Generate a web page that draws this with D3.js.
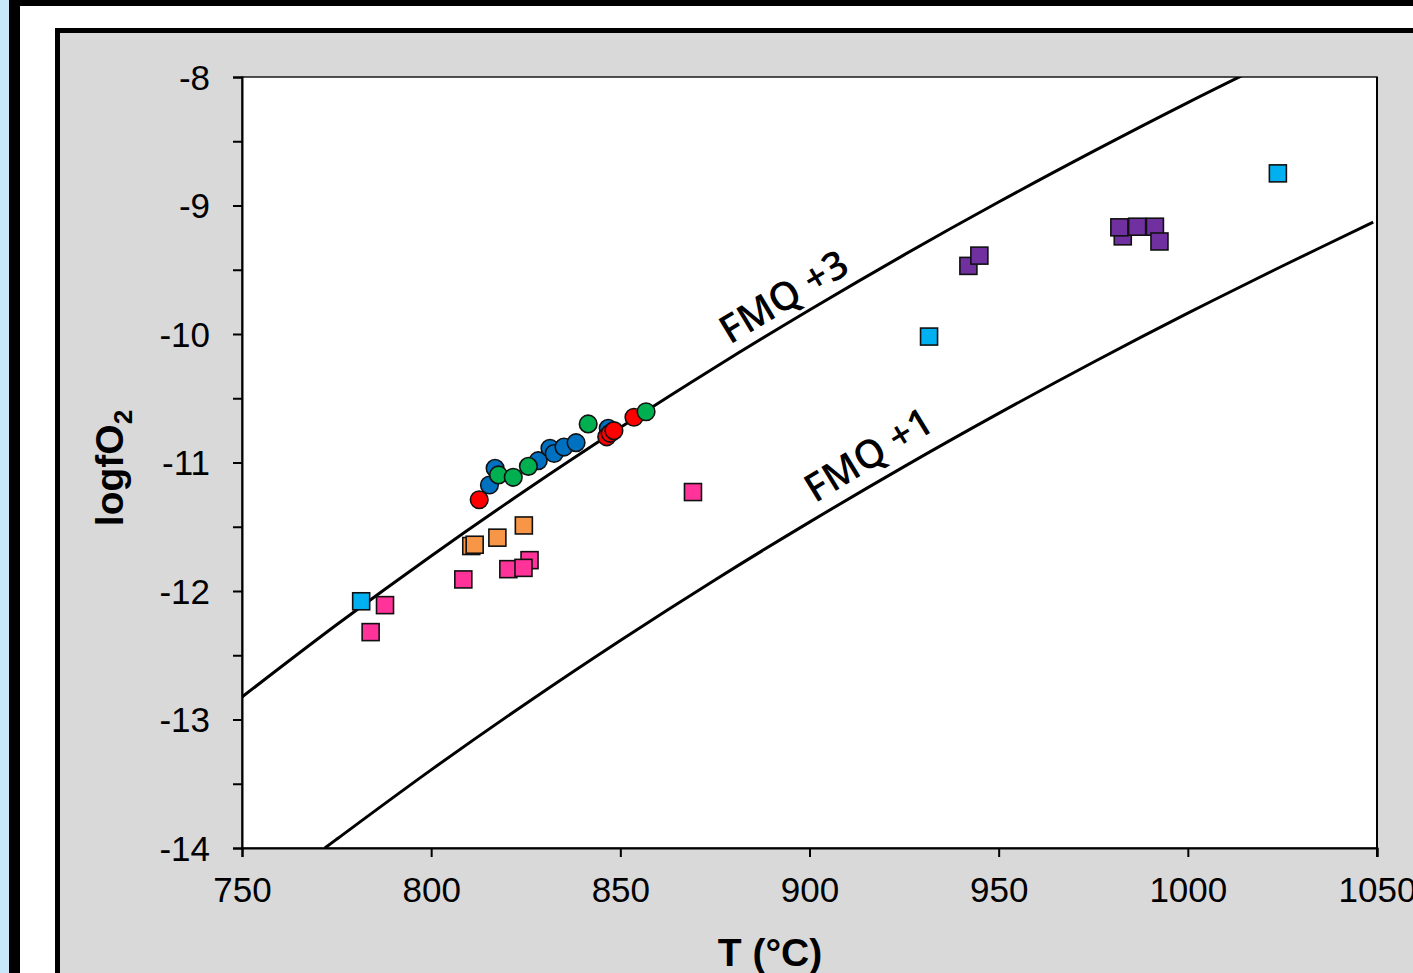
<!DOCTYPE html>
<html>
<head>
<meta charset="utf-8">
<script src="https://cdn.jsdelivr.net/npm/d3@7"></script>
<style>
  html, body { margin: 0; padding: 0; background: #fff; }
  svg { display: block; }
</style>
</head>
<body>
<svg id="chart" width="1413" height="973"></svg>
<script>
// ---------- data ----------
const xTicks = [750, 800, 850, 900, 950, 1000, 1050];
const yTicks = [-8, -9, -10, -11, -12, -13, -14];
const yMinorTicks = [-8.5, -9.5, -10.5, -11.5, -12.5, -13.5];

// buffer curves [T (°C), logfO2]
const fmq3 = [[750, -12.825], [775, -12.263], [800, -11.727], [825, -11.216], [850, -10.728],
              [875, -10.260], [900, -9.813], [925, -9.384], [950, -8.973], [975, -8.579],
              [1000, -8.199], [1025, -7.835]];
const fmq1 = [[771.9, -14.0], [775, -13.932], [800, -13.392], [825, -12.877], [850, -12.385],
              [875, -11.914], [900, -11.464], [925, -11.032], [950, -10.618], [975, -10.220],
              [1000, -9.838], [1025, -9.471], [1049, -9.13]];
const curveLabels = [
  { text: "FMQ +3", T: 895, v: -9.80, angle: -31 },
  { text: "FMQ +1", T: 917.5, v: -11.03, angle: -31.5 }
];

// square-marker series
const cyanSq = [[781.5, -12.08], [931.6, -10.02], [1023.8, -8.75]];
const pinkSq = [[787.8, -12.11], [784.0, -12.32], [808.5, -11.91], [820.4, -11.83],
                [826.0, -11.76], [824.4, -11.82], [869.2, -11.23]];
const orangeSq = [[810.6, -11.65], [811.5, -11.64], [817.5, -11.585], [824.5, -11.49]];
const purpleSq = [[942.0, -9.47], [944.9, -9.39], [982.8, -9.24], [981.9, -9.17],
                  [986.6, -9.165], [991.3, -9.165], [992.5, -9.28]];

// circle-marker series
const blueCi = [[815.4, -11.175], [816.9, -11.045], [828.3, -10.986], [831.4, -10.889],
                [832.5, -10.93], [835.1, -10.88], [838.3, -10.846], [846.8, -10.734]];
const redCi = [[812.7, -11.29], [846.4, -10.80], [847.3, -10.773], [848.3, -10.752], [853.6, -10.648]];
const greenCi = [[817.8, -11.097], [821.7, -11.115], [825.7, -11.03], [841.5, -10.70], [856.8, -10.605]];

const squareSeries = [
  { data: pinkSq, color: "#FF3399" },
  { data: orangeSq, color: "#F79646" },
  { data: purpleSq, color: "#7030A0" },
  { data: cyanSq, color: "#00B0F0" }
];
const circleSeries = [
  { data: blueCi, color: "#0070C0" },
  { data: redCi, color: "#FF0000" },
  { data: greenCi, color: "#00B050" }
];

// ---------- layout ----------
const svg = d3.select("#chart");
const W = 1413, H = 973;
const plot = { left: 242, top: 77, right: 1377, bottom: 848 };

const x = d3.scaleLinear().domain([750, 1050]).range([plot.left, plot.right]);
const y = d3.scaleLinear().domain([-14, -8]).range([plot.bottom, plot.top]);

// outer decorations
svg.append("rect").attr("x", 0).attr("y", 0).attr("width", W).attr("height", H).attr("fill", "#ffffff");
svg.append("rect").attr("x", 0).attr("y", 0).attr("width", 9).attr("height", H).attr("fill", "#C8E7F9");
svg.append("rect").attr("x", 9).attr("y", 0).attr("width", 11).attr("height", H).attr("fill", "#000");
svg.append("rect").attr("x", 9).attr("y", 0).attr("width", W).attr("height", 6).attr("fill", "#000");
svg.append("rect").attr("x", 57.5).attr("y", 30.5).attr("width", W).attr("height", H)
   .attr("fill", "#D9D9D9").attr("stroke", "#000").attr("stroke-width", 5);

// plot area
svg.append("rect").attr("x", plot.left).attr("y", plot.top)
   .attr("width", plot.right - plot.left).attr("height", plot.bottom - plot.top)
   .attr("fill", "#fff").attr("stroke", "#1a1a1a").attr("stroke-width", 1.5);

svg.append("clipPath").attr("id", "clip").append("rect")
   .attr("x", plot.left).attr("y", plot.top)
   .attr("width", plot.right - plot.left).attr("height", plot.bottom - plot.top);

// curves
const line = d3.line().x(d => x(d[0])).y(d => y(d[1])).curve(d3.curveCatmullRom);
const gCurves = svg.append("g").attr("clip-path", "url(#clip)");
[fmq3, fmq1].forEach(c => {
  gCurves.append("path").attr("d", line(c)).attr("fill", "none")
    .attr("stroke", "#000").attr("stroke-width", 3);
});

// curve labels
curveLabels.forEach(l => {
  svg.append("text")
    .attr("transform", `translate(${x(l.T)},${y(l.v)}) rotate(${l.angle})`)
    .attr("text-anchor", "middle")
    .attr("font-family", "'Open Sans', sans-serif")
    .attr("font-weight", 600)
    .attr("font-size", 39)
    .attr("fill", "#000")
    .text(l.text);
});

// markers
const sq = 17;
squareSeries.forEach(s => {
  svg.append("g").selectAll("rect").data(s.data).join("rect")
    .attr("x", d => x(d[0]) - sq / 2).attr("y", d => y(d[1]) - sq / 2)
    .attr("width", sq).attr("height", sq)
    .attr("fill", s.color).attr("stroke", "#111").attr("stroke-width", 1.6);
});
circleSeries.forEach(s => {
  svg.append("g").selectAll("circle").data(s.data).join("circle")
    .attr("cx", d => x(d[0])).attr("cy", d => y(d[1])).attr("r", 8.8)
    .attr("fill", s.color).attr("stroke", "#111").attr("stroke-width", 1.6);
});

// axes
const font = "'Liberation Sans', Arial, sans-serif";
const yAxis = svg.append("g").attr("transform", `translate(${plot.left},0)`)
  .call(d3.axisLeft(y).tickValues(yTicks).tickSize(9).tickPadding(23)
        .tickFormat(d => d3.format("d")(d).replace("−", "-")));
const yMinor = svg.append("g").attr("transform", `translate(${plot.left},0)`)
  .call(d3.axisLeft(y).tickValues(yMinorTicks).tickSize(9).tickFormat(""));
const xAxis = svg.append("g").attr("transform", `translate(0,${plot.bottom})`)
  .call(d3.axisBottom(x).tickValues(xTicks).tickSize(9).tickPadding(20).tickFormat(d3.format("d")));

[yAxis, yMinor, xAxis].forEach(g => {
  g.select(".domain").attr("stroke", "#000").attr("stroke-width", 2);
  g.selectAll(".tick line").attr("stroke", "#000").attr("stroke-width", 2);
  g.selectAll(".tick text").attr("font-family", font).attr("font-size", 35).attr("fill", "#000");
});
yMinor.select(".domain").remove();
xAxis.selectAll(".tick text").attr("dy", "0.71em");
yAxis.selectAll(".tick text").attr("dy", "0.35em");

// right border
svg.append("line").attr("x1", plot.right).attr("x2", plot.right)
   .attr("y1", plot.top).attr("y2", plot.bottom + 9)
   .attr("stroke", "#000").attr("stroke-width", 2);

// axis titles
svg.append("text")
  .attr("x", 770).attr("y", 966)
  .attr("text-anchor", "middle")
  .attr("font-family", font).attr("font-weight", "bold").attr("font-size", 39)
  .text("T (°C)");

const yt = svg.append("text")
  .attr("transform", `translate(123,468) rotate(-90)`)
  .attr("text-anchor", "middle")
  .attr("font-family", font).attr("font-weight", "bold").attr("font-size", 39);
yt.append("tspan").text("logfO");
yt.append("tspan").attr("font-size", 26).attr("dy", 9).text("2");
</script>
</body>
</html>
